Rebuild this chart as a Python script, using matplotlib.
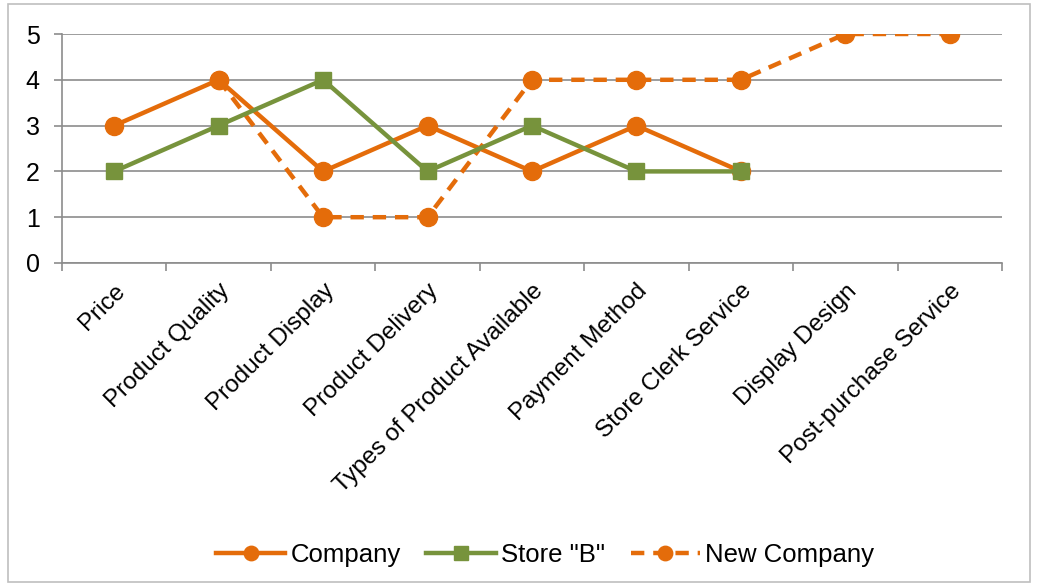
import matplotlib.pyplot as plt
from matplotlib.patches import Rectangle

categories = ['Price', 'Product Quality', 'Product Display', 'Product Delivery',
              'Types of Product Available', 'Payment Method', 'Store Clerk Service',
              'Display Design', 'Post-purchase Service']
company = [3, 4, 2, 3, 2, 3, 2]
store_b = [2, 3, 4, 2, 3, 2, 2]
# New Company starts at Product Quality
new_company = [None, 4, 1, 1, 4, 4, 4, 5, 5]

orange = '#E46C0A'
green = '#77933C'

plt.rcParams['font.family'] = ['Liberation Sans', 'DejaVu Sans']

fig = plt.figure(figsize=(10.38, 5.86), dpi=100)
ax = fig.add_axes([62 / 1038, 1 - 263 / 586, 940 / 1038, 229 / 586])

x = list(range(len(categories)))
ax.plot(x[:len(company)], company, color=orange, lw=3.2, marker='o', ms=13, label='Company', zorder=3)
ax.plot(x[:len(store_b)], store_b, color=green, lw=3.2, marker='s', ms=12, label='Store "B"', zorder=4)
nx = [i for i, v in zip(x, new_company) if v is not None]
nv = [v for v in new_company if v is not None]
ax.plot(nx, nv, color=orange, lw=3.2, ls=(0, (3, 2)), marker='o', ms=13, label='New Company', zorder=3)

ax.set_xlim(-0.5, len(categories) - 0.5)
ax.set_ylim(0, 5)
ax.set_yticks(range(6))
ax.yaxis.grid(True, color='#8c8c8c', lw=1.2)
ax.set_axisbelow(True)
for s in ['top', 'right']:
    ax.spines[s].set_visible(False)
for s in ['left', 'bottom']:
    ax.spines[s].set_color('#8c8c8c')
    ax.spines[s].set_linewidth(1.2)

ax.set_xticks(x)
ax.set_xticklabels(categories, rotation=45, ha='right', rotation_mode='anchor', fontsize=17.5)
ax.tick_params(axis='x', length=0, pad=12)
ax.set_xticks([i - 0.5 for i in range(len(categories) + 1)], minor=True)
ax.tick_params(axis='x', which='minor', length=6, color='#8c8c8c', width=1.2)
ax.tick_params(axis='y', length=6, color='#8c8c8c', width=1.2, labelsize=18, pad=10)

fig.legend(loc='center', bbox_to_anchor=(545 / 1038, 1 - 555 / 586), ncol=3, frameon=False,
           fontsize=18.5, handlelength=2.7, columnspacing=1.0, handletextpad=0.2, markerscale=0.8)

fig.patches.append(Rectangle((8 / 1038, 4 / 586), 1022 / 1038, 578 / 586, transform=fig.transFigure,
                             fill=False, ec='#bfbfbf', lw=1.2))

fig.savefig('out.png', dpi=100)
